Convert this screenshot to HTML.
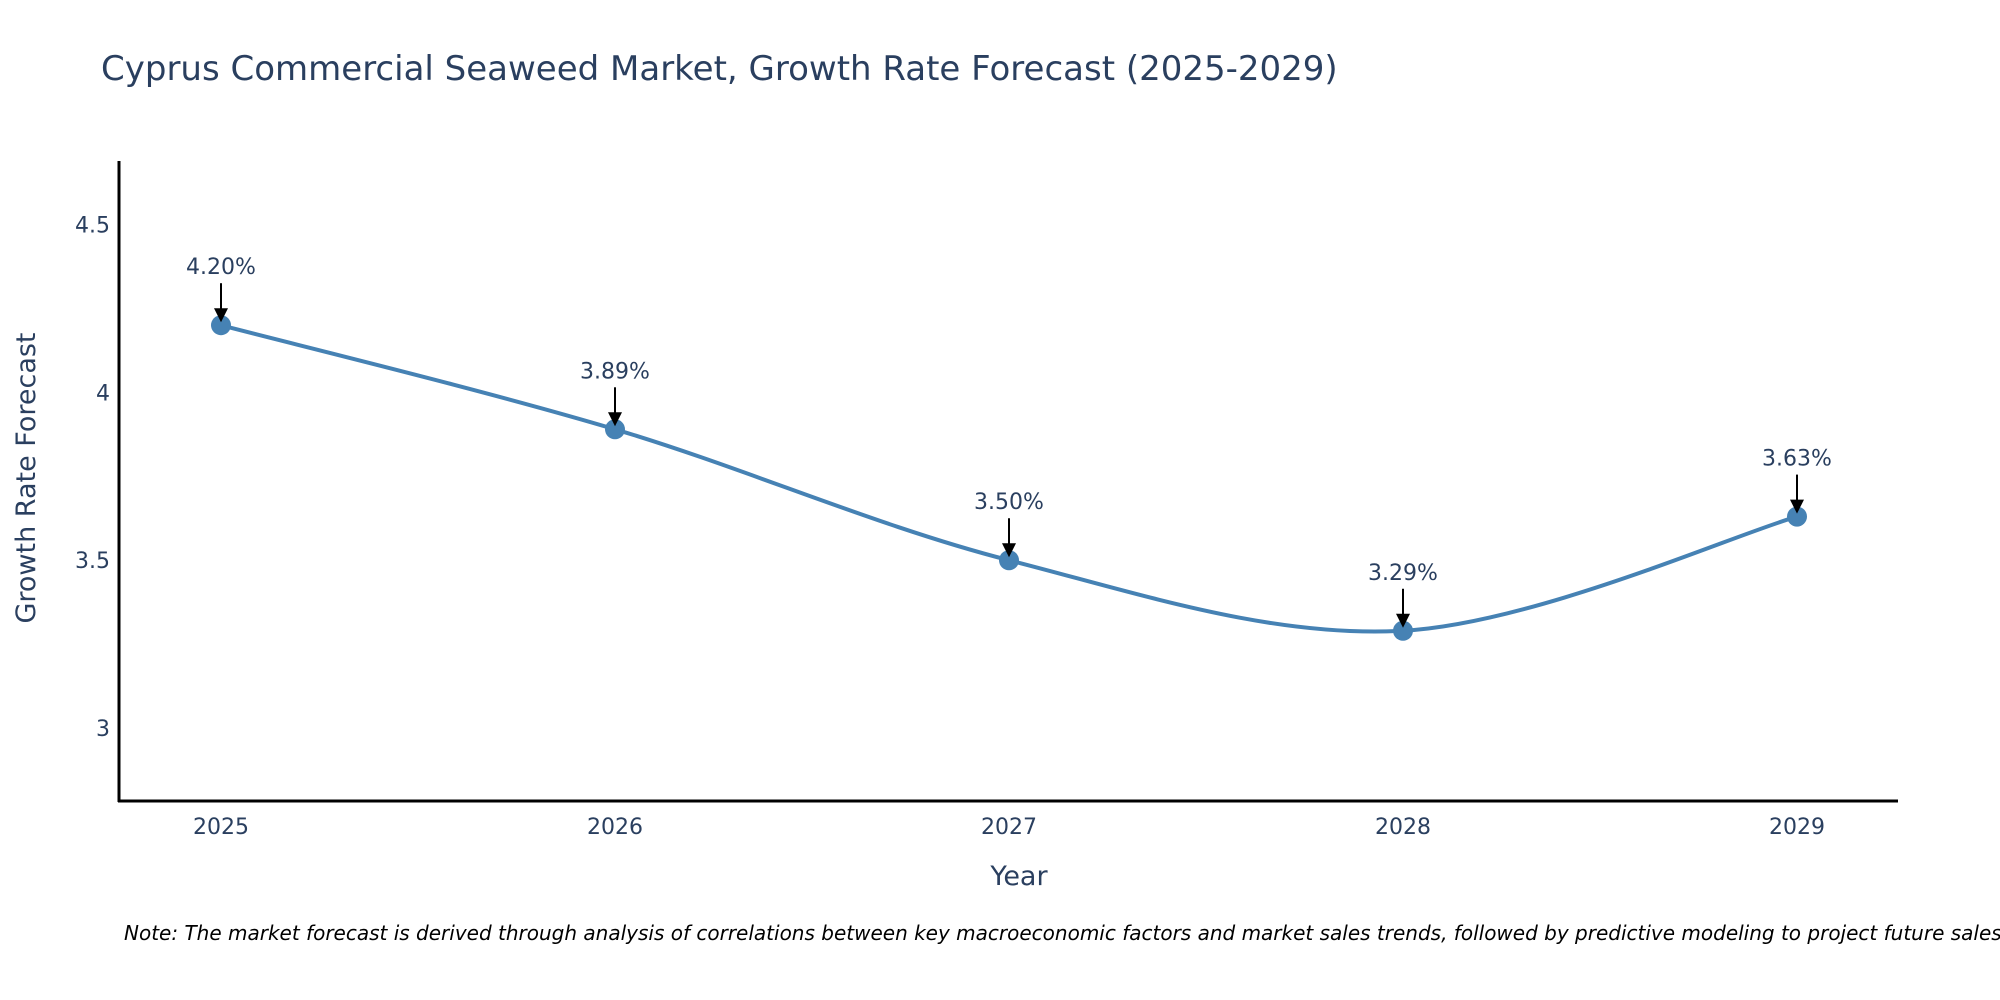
<!DOCTYPE html>
<html><head><meta charset="utf-8"><style>
body{margin:0;background:#fff;}
svg{display:block;font-family:"DejaVu Sans","Liberation Sans",sans-serif;}
</style></head><body>
<svg id="chart" width="2000" height="1000">
<text x="101" y="80" font-size="34" fill="#2a3f5f">Cyprus Commercial Seaweed Market, Growth Rate Forecast (2025-2029)</text>
<g id="yticks"></g>
<g id="xticks"></g>
<path id="line" fill="none" stroke="#4682b4" stroke-width="4"></path>
<g id="marks"></g>
<g id="ann"></g>
<line x1="119" y1="161" x2="119" y2="802" stroke="#000" stroke-width="3"/>
<line x1="118" y1="801" x2="1898" y2="801" stroke="#000" stroke-width="3"/>
<text x="1019" y="885" font-size="27" fill="#2a3f5f" text-anchor="middle">Year</text>
<text transform="translate(35,478) rotate(-90)" font-size="27" fill="#2a3f5f" text-anchor="middle">Growth Rate Forecast</text>
<text x="124" y="940" font-size="20" font-style="italic" fill="#000">Note: The market forecast is derived through analysis of correlations between key macroeconomic factors and market sales trends, followed by predictive modeling to project future sales.</text>
</svg>
<script>
const years = [2025, 2026, 2027, 2028, 2029];
const values = [4.20, 3.89, 3.50, 3.29, 3.63];
const yTicks = [3, 3.5, 4, 4.5];
const yTickLabels = ["3", "3.5", "4", "4.5"];
const NS = "http://www.w3.org/2000/svg";
const X0 = 221, X1 = 1797, Y0 = 2.783, Y1 = 4.689, PB = 801, PT = 161;
function xs(i){ return X0 + (X1 - X0) * (years[i] - years[0]) / (years[years.length-1] - years[0]); }
function ys(v){ return PB - (v - Y0) / (Y1 - Y0) * (PB - PT); }
function mk(tag, attrs){ const e = document.createElementNS(NS, tag); for (const k in attrs) e.setAttribute(k, attrs[k]); return e; }
const yt = document.getElementById('yticks');
yTicks.forEach((t, i) => {
  const e = mk('text', {x: 110, y: ys(t) + 8, 'font-size': 22, fill: '#2a3f5f', 'text-anchor': 'end'});
  
  
  e.textContent = yTickLabels[i]; yt.appendChild(e);
});
const xt = document.getElementById('xticks');
years.forEach((y, i) => {
  const e = mk('text', {x: xs(i), y: 834, 'font-size': 22, fill: '#2a3f5f', 'text-anchor': 'middle'});
  
  
  e.textContent = y; xt.appendChild(e);
});
const pts = values.map((v, i) => [xs(i), ys(v)]);
let d = 'M' + pts[0][0] + ',' + pts[0][1];
for (let i = 0; i < pts.length - 1; i++) {
  const p0 = pts[Math.max(0, i-1)], p1 = pts[i], p2 = pts[i+1], p3 = pts[Math.min(pts.length-1, i+2)];
  const c1 = [p1[0] + (p2[0]-p0[0])/6, p1[1] + (p2[1]-p0[1])/6];
  const c2 = [p2[0] - (p3[0]-p1[0])/6, p2[1] - (p3[1]-p1[1])/6];
  d += ' C' + c1 + ' ' + c2 + ' ' + p2;
}
document.getElementById('line').setAttribute('d', d);
const mg = document.getElementById('marks'), ag = document.getElementById('ann');
pts.forEach((p, i) => {
  const c = mk('circle', {cx: p[0], cy: p[1], r: 10, fill: '#4682b4'});
  
  
  mg.appendChild(c);
  const l = mk('line', {x1: p[0], y1: p[1]-42, x2: p[0], y2: p[1]-14, stroke: '#000', 'stroke-width': 2});
  
  
  ag.appendChild(l);
  const h = mk('polygon', {points: (p[0]-7)+','+(p[1]-17)+' '+(p[0]+7)+','+(p[1]-17)+' '+p[0]+','+(p[1]-3), fill: '#000'});
  
  
  ag.appendChild(h);
  const t = mk('text', {x: p[0], y: p[1]-51, 'font-size': 22, fill: '#2a3f5f', 'text-anchor': 'middle'});
  
  
  t.textContent = values[i].toFixed(2) + '%'; ag.appendChild(t);
});
</script>
</body></html>
